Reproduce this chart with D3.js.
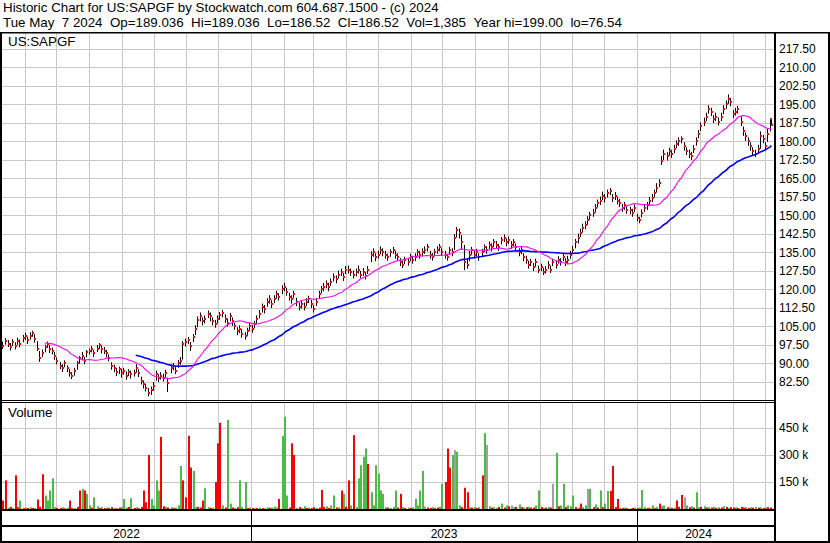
<!DOCTYPE html>
<html><head><meta charset="utf-8">
<script src="https://cdn.jsdelivr.net/npm/d3@7"></script>
<style>
body{margin:0;background:#fff;}
svg{display:block;}
text{font-family:Arial,"Liberation Sans",sans-serif;font-size:12px;fill:#000;}
text.big{font-size:13.33px;}
</style></head>
<body><svg id="chart" width="830" height="543"></svg>
<script>
// ---------------- DATA ----------------
const titleLine1 = "Historic Chart for US:SAPGF by Stockwatch.com 604.687.1500 - (c) 2024";
const titleLine2 = "Tue May  7 2024  Op=189.036  Hi=189.036  Lo=186.52  Cl=186.52  Vol=1,385  Year hi=199.00  lo=76.54";
const symbolLabel = "US:SAPGF";
const volumeLabel = "Volume";
const priceTicks = [82.5,90,97.5,105,112.5,120,127.5,135,142.5,150,157.5,165,172.5,180,187.5,195,202.5,210,217.5];
const volumeTicks = [150,300,450];              // thousands
const volumeTickLabels = ["150 k","300 k","450 k"];
const yearLabels = ["2022","2023","2024"];
const firstWeek = "2022-05-09";                 // bars: Mon/Wed/Fri of each week, last week Mon/Tue

// closes, one row per week
const closes = [
98.5,97.2,99.0, 98.0,96.5,98.8, 97.0,99.2,98.0, 100.2,101.0,99.3, 101.2,102.4,100.0,
96.0,92.0,94.0, 96.8,98.0,96.0, 95.0,93.0,91.0, 89.0,88.0,90.0, 88.0,86.0,85.0,
87.0,90.0,92.0, 93.0,91.0,94.5, 95.0,96.0,94.0, 96.0,97.5,96.0, 95.0,94.0,92.0,
89.0,88.0,86.5, 87.5,86.0,87.0, 85.0,86.5,85.5, 86.0,88.0,86.0, 83.0,81.5,80.0,
78.0,79.0,81.0, 85.5,84.0,85.0, 84.0,86.0,82.0, 88.0,89.0,87.0, 90.0,91.0,98.0,
98.5,99.5,97.0, 100.5,104.0,107.5, 109.0,107.0,108.0, 110.0,109.0,107.0, 106.0,108.0,109.5,
110.5,108.0,106.5, 109.0,107.0,105.0, 103.0,104.0,102.0, 101.0,103.0,105.0, 104.0,106.0,108.0,
110.0,113.0,112.0, 115.0,116.0,114.0, 116.0,118.0,117.0, 120.0,121.0,119.0, 117.0,116.0,118.0,
115.0,113.0,114.0, 113.0,115.0,116.0, 114.0,112.0,115.0, 118.0,120.0,121.0, 122.0,121.0,123.0,
125.0,124.0,126.0, 127.0,125.0,128.0, 128.0,127.0,126.0, 127.0,128.0,126.0, 127.0,125.5,128.0,
134.0,135.0,133.0, 134.0,136.0,135.0, 134.0,133.0,135.0, 136.0,134.0,133.0, 131.0,130.0,132.0,
131.0,133.0,132.0, 133.0,135.0,134.0, 135.0,136.0,137.0, 134.0,133.0,135.0, 136.0,137.0,135.0,
134.0,133.0,136.0, 135.0,141.0,144.0, 143.0,139.0,131.0, 130.0,134.0,136.0, 134.0,135.0,133.0,
135.0,137.0,136.0, 138.0,137.0,139.0, 138.0,137.0,140.0, 141.0,139.0,140.0, 138.0,139.0,137.0,
135.0,136.0,133.0, 132.0,130.0,131.0, 129.0,131.0,128.0, 129.0,127.0,128.0, 130.0,128.0,131.0,
130.0,132.0,131.0, 133.0,131.0,132.0, 134.0,136.0,139.0, 141.0,143.0,145.0, 146.0,148.0,150.0,
151.0,153.0,155.0, 156.0,158.0,157.0, 159.0,160.0,157.0, 158.0,156.0,155.0, 153.0,154.0,152.0,
152.0,151.0,153.0, 149.0,148.0,151.0, 153.0,154.0,156.0, 157.0,159.0,161.0, 163.0,172.0,175.0,
174.0,176.0,175.0, 177.0,179.0,180.0, 181.0,178.0,176.0, 175.0,174.0,177.0, 180.0,183.0,186.0,
188.0,190.0,193.0, 192.0,189.0,190.0, 188.0,190.0,193.0, 195.0,197.0,196.0, 191.0,192.0,193.0,
188.0,184.0,182.0, 180.0,178.0,176.0, 175.0,177.0,182.0, 181.0,178.0,183.0, 189.0,186.52
];
const highs = [
100.0,98.8,100.2, 99.4,98.2,99.8, 98.5,100.4,99.6, 101.5,102.4,100.8, 102.6,103.2,101.8,
99.0,95.0,95.6, 97.6,98.8,97.4, 96.4,94.6,92.4, 90.5,89.6,91.2, 89.2,87.6,86.4,
88.2,91.0,93.0, 94.6,92.6,95.4, 96.0,97.0,95.4, 97.4,98.2,97.2, 96.6,95.4,93.6,
90.4,89.4,88.0, 88.6,87.8,88.2, 86.6,87.6,87.0, 87.4,89.6,87.6, 84.6,83.0,81.6,
80.0,80.6,82.4, 87.0,85.6,86.4, 85.8,87.4,84.2, 89.4,90.2,88.6, 91.4,92.6,99.0,
100.0,100.6,98.6, 101.8,105.4,109.0, 110.6,108.6,109.4, 111.4,110.6,108.6, 107.6,109.4,110.8,
111.6,109.8,108.2, 110.4,108.6,106.4, 104.6,105.4,103.8, 102.6,104.4,106.4, 105.6,107.2,109.4,
111.6,114.2,113.6, 116.4,117.6,115.6, 117.6,119.4,118.4, 121.6,122.6,120.6, 118.6,117.6,119.4,
116.6,114.6,115.4, 114.6,116.4,117.4, 115.6,113.6,116.4, 119.4,121.4,122.6, 123.6,122.6,124.4,
126.4,125.6,127.6, 128.4,126.6,129.4, 129.6,128.4,127.6, 128.4,129.6,127.4, 128.6,127.0,129.4,
135.4,136.6,134.6, 135.6,137.4,136.6, 135.6,134.4,136.2, 137.2,135.6,134.6, 132.6,131.6,133.2,
132.6,134.4,133.6, 134.6,136.2,135.6, 136.6,137.4,138.4, 135.6,134.6,136.4, 137.4,138.4,136.6,
135.6,134.4,137.2, 136.6,142.4,145.2, 144.6,142.0,138.0, 132.6,135.6,137.2, 135.6,136.4,134.6,
136.4,138.2,137.4, 139.4,138.6,140.4, 139.6,138.4,141.2, 142.2,140.6,141.4, 139.6,140.4,138.6,
136.6,137.4,134.6, 133.6,131.6,132.4, 130.6,132.4,129.6, 130.4,128.6,129.4, 131.4,129.6,132.4,
131.6,133.4,132.6, 134.6,132.6,133.6, 135.6,137.6,140.4, 142.6,144.6,146.6, 147.6,149.6,151.4,
152.6,154.6,156.4, 157.6,159.6,158.6, 160.4,161.0,158.6, 159.4,157.6,156.6, 154.6,155.4,153.6,
153.4,152.6,154.4, 150.6,149.4,152.4, 154.6,155.4,157.4, 158.6,160.4,163.0, 164.6,174.0,176.6,
175.6,177.4,176.6, 178.6,180.4,181.6, 182.0,179.6,177.6, 176.6,175.6,178.4, 181.6,184.6,187.6,
189.6,191.6,194.6, 193.6,190.6,191.6, 189.6,191.6,194.6, 196.6,199.0,197.6, 192.6,193.6,194.4,
190.0,186.0,183.6, 181.6,179.6,177.6, 176.6,178.6,184.0, 182.6,179.6,185.0, 189.04,189.04
];
const lows = [
97.0,95.8,97.6, 96.6,95.2,97.0, 95.6,97.5,96.5, 98.5,99.4,97.8, 99.6,100.8,98.4,
95.0,90.6,92.5, 94.5,96.2,94.2, 93.6,91.4,89.6, 87.6,86.5,88.4, 86.4,84.6,83.6,
85.0,87.4,89.8, 91.2,89.6,92.4, 93.6,94.4,92.6, 94.6,95.8,94.0, 93.8,92.4,90.8,
87.4,86.4,84.8, 85.6,84.2,85.4, 83.4,84.8,83.8, 84.6,86.2,84.4, 81.4,79.8,78.6,
76.6,77.2,78.8, 83.0,82.4,83.4, 82.6,84.2,78.4, 86.0,87.2,85.6, 88.2,89.4,91.5,
96.8,97.8,95.0, 98.6,101.4,104.6, 107.0,105.4,106.2, 108.4,107.0,105.4, 104.4,106.2,107.6,
108.6,106.4,104.8, 107.0,105.2,103.6, 101.4,102.2,100.4, 99.6,101.2,103.2, 102.4,104.2,106.0,
108.2,110.6,110.2, 113.0,114.2,112.4, 114.4,116.2,115.4, 118.0,119.2,117.4, 115.4,114.2,116.4,
113.2,111.4,112.2, 111.4,113.2,114.4, 112.4,110.6,113.2, 116.0,118.4,119.2, 120.4,119.2,121.4,
123.2,122.4,124.4, 125.4,123.4,126.2, 126.4,125.4,124.4, 125.2,126.4,124.6, 125.4,124.0,126.2,
131.0,133.2,131.4, 132.4,134.2,133.4, 132.4,131.6,133.2, 134.4,132.4,131.4, 129.4,128.6,130.2,
129.6,131.4,130.4, 131.4,133.4,132.4, 133.4,134.4,135.4, 132.4,131.6,133.4, 134.4,135.4,133.6,
132.4,131.6,134.2, 133.4,136.0,141.0, 140.6,136.0,127.8, 128.4,131.4,134.0, 132.4,133.4,131.6,
133.2,135.2,134.4, 136.4,135.4,137.2, 136.4,135.6,138.2, 139.2,137.4,138.4, 136.4,137.4,135.4,
133.4,134.2,131.4, 130.4,128.4,129.4, 127.4,129.2,126.6, 127.4,125.8,126.4, 128.2,126.6,129.4,
128.4,130.4,129.6, 131.4,129.4,130.4, 132.4,134.4,136.6, 138.6,141.2,143.0, 144.4,146.2,148.2,
149.4,151.2,153.2, 154.2,156.2,155.2, 157.2,158.2,155.4, 156.2,154.4,153.4, 151.4,152.2,150.6,
150.4,149.4,151.4, 147.6,146.8,149.2, 151.4,152.2,154.2, 155.4,157.2,159.2, 161.4,170.4,172.4,
172.2,174.2,173.2, 175.2,177.2,178.2, 179.2,176.2,174.4, 173.2,172.4,175.2, 178.2,181.2,184.2,
186.2,188.2,191.2, 190.2,187.4,188.2, 186.4,188.2,191.0, 193.2,195.2,194.2, 189.4,190.4,191.2,
186.2,182.2,180.2, 178.2,176.2,174.4, 173.6,175.2,177.0, 179.2,176.2,179.8, 184.0,186.52
];
// volume in thousands of shares
const volumes = [
10,47,159, 8,12,5, 187,10,47, 5,8,6, 10,6,5, 53,12,193, 75,47,103, 170,10,6, 5,10,4, 8,47,6,
5,12,103, 112,103,84, 20,8,65, 15,6,10, 5,8,6, 10,5,4, 8,10,56, 8,12,60, 6,10,4, 12,103,37,
300,56,20, 159,103,401, 15,12,8, 10,5,8, 20,239,159, 65,407,230, 212,10,12, 8,47,115, 10,6,8, 150,365,479,
20,8,494, 30,8,6, 10,159,12, 150,6,8, 5,4,6, 8,5,4, 10,6,8, 12,8,56, 405,513,75, 8,365,300,
6,10,5, 15,6,8, 5,10,6, 8,106,12, 15,6,20, 75,8,10, 103,84,12, 159,20,410, 10,170,243, 290,336,250,
93,20,243, 196,103,84, 10,8,6, 12,103,8, 84,10,6, 8,5,10, 56,20,103, 212,15,8, 6,10,5, 8,12,140,
150,336,230, 300,327,318, 20,10,118, 93,10,8, 12,6,10, 187,421,355, 15,8,10, 6,12,30, 8,20,15, 20,10,12,
25,10,8, 10,12,8, 8,20,103, 10,6,8, 12,8,140, 312,15,20, 140,10,20, 15,75,10, 8,30,10, 20,112,112,
10,25,8, 103,10,30, 100,100,239, 10,56,8, 6,8,5, 4,6,8, 5,8,106, 10,6,8, 20,5,12, 30,15,20,
10,8,6, 8,47,12, 78,65,20, 10,15,8, 93,10,12, 15,8,10, 8,12,6, 10,8,15, 12,6,10, 8,10,6,
12,8,10, 6,10,8, 12,8,10, 6,8,10, 8,1.4
];
// volume bar direction: g = up, r = down, n = unchanged
const volumeDirection = (
"rrr grg rrg rgr grg rrr ggg ggr rgr grr " +
"grr grg grg grg rgr rgr rgg grg rgr rrr " +
"rgg ggr rgr grg ggr rrr ggr rrg grg rrr " +
"grg grg rgg grg rgr grg grg ggr ggg rrr " +
"grg grg rrg rrr grg grg rgr rgr ggg ggr " +
"ggg ggg grg ggr rgr grg ggg gnr rgr rgg " +
"rrr gng grr rgr grg rgn grg grg rgr ngr " +
"grg rgr rgg rgr grn grg grg ggr grg gng " +
"rgr grg grr rrg rgr grg rgg grg grg rgg " +
"rgr grr rng rgr ggr grg rgr grg rgr rgr " +
"rrg rgr grg rgr rr").replace(/ /g, "").split("");

// ---------------- BUILD ----------------
const svg = d3.select("#chart");
const W = 830, H = 543;
const plotL = 2, plotR = 774;
const priceTop = 33, priceBot = 400, volTop = 402, volBot = 509.5;

const t0 = d3.timeParse("%Y-%m-%d")(firstWeek);
const dates = [];
for (let w = 0; w <= 104; w++) {
  const offs = w === 104 ? [0, 1] : [0, 2, 4];
  offs.forEach(o => dates.push(d3.timeDay.offset(t0, 7 * w + o)));
}
const n = Math.min(dates.length, closes.length, highs.length, lows.length);
const bars = d3.range(n).map(i => ({
  date: dates[i], close: closes[i], high: highs[i], low: lows[i],
  vol: volumes[i] || 0, dir: volumeDirection[i] || "g"
}));

const x = d3.scaleTime()
  .domain([new Date(2023, 0, 1), new Date(2024, 0, 1)])
  .range([251, 637]);
const y = d3.scaleLinear().domain([82.5, 217.5]).range([381.8, 48.8]);
const yv = d3.scaleLinear().domain([0, 450]).range([509, 428]);

const defs = svg.append("defs");
defs.append("clipPath").attr("id", "clipP").append("rect")
  .attr("x", plotL).attr("y", priceTop).attr("width", plotR - plotL).attr("height", priceBot - priceTop);
defs.append("clipPath").attr("id", "clipV").append("rect")
  .attr("x", plotL).attr("y", volTop).attr("width", plotR - plotL).attr("height", volBot - volTop);

svg.append("rect").attr("width", W).attr("height", H).attr("fill", "#fff");

// header text (non-breaking spaces keep the double gaps)
const nb = s => s.replace(/ /g, "\u00A0");
svg.append("text").attr("class", "big").attr("x", 3).attr("y", 12).text(nb(titleLine1));
svg.append("text").attr("class", "big").attr("x", 3).attr("y", 27).text(nb(titleLine2));

// month gridlines
const months = d3.timeMonth.range(new Date(2022, 4, 1), new Date(2024, 6, 1))
  .filter(d => x(d) > plotL + 1 && x(d) < plotR - 1);
const grid = svg.append("g").attr("stroke", "#c8c8c8").attr("stroke-width", 1);
months.forEach(m => {
  const xx = Math.round(x(m)) + 0.5;
  grid.append("line").attr("x1", xx).attr("x2", xx).attr("y1", priceTop).attr("y2", priceBot);
  grid.append("line").attr("x1", xx).attr("x2", xx).attr("y1", volTop).attr("y2", volBot);
});
priceTicks.forEach(p => {
  const yy = Math.round(y(p)) + 0.5;
  grid.append("line").attr("x1", plotL).attr("x2", plotR).attr("y1", yy).attr("y2", yy);
});
volumeTicks.forEach(v => {
  const yy = Math.round(yv(v)) + 0.5;
  grid.append("line").attr("x1", plotL).attr("x2", plotR).attr("y1", yy).attr("y2", yy);
});

// price axis (right)
const pAxis = svg.append("g").attr("transform", `translate(${plotR + 2},0)`)
  .call(d3.axisRight(y).tickValues(priceTicks).tickFormat(d3.format(".2f")).tickSize(0).tickPadding(3));
pAxis.select(".domain").remove();
pAxis.selectAll("text").attr("font-size", 12).attr("fill", "#000").attr("font-family", "Arial, 'Liberation Sans', sans-serif");

const vAxis = svg.append("g").attr("transform", `translate(${plotR + 2},0)`)
  .call(d3.axisRight(yv).tickValues(volumeTicks).tickFormat((d, i) => volumeTickLabels[i]).tickSize(0).tickPadding(3));
vAxis.select(".domain").remove();
vAxis.selectAll("text").attr("font-size", 12).attr("fill", "#000").attr("font-family", "Arial, 'Liberation Sans', sans-serif");

// price bars
const pg = svg.append("g").attr("clip-path", "url(#clipP)");
pg.selectAll("line.bar").data(bars).join("line").attr("class", "bar")
  .attr("x1", d => Math.round(x(d.date)) + 0.5).attr("x2", d => Math.round(x(d.date)) + 0.5)
  .attr("y1", d => y(d.high)).attr("y2", d => y(d.low))
  .attr("stroke", "#000").attr("stroke-width", 1);
pg.selectAll("rect.cl").data(bars).join("rect").attr("class", "cl")
  .attr("x", d => Math.round(x(d.date))).attr("y", d => Math.round(y(d.close)) - 1)
  .attr("width", 2).attr("height", 2).attr("fill", "#ff0000");

// moving averages
function movingAverage(arr, len) {
  return arr.map((d, i) => i < len - 1 ? null : d3.mean(arr.slice(i - len + 1, i + 1), e => e.close));
}
const maShort = movingAverage(bars, 19);
const maLong = movingAverage(bars, 56);
const maLine = d3.line().defined(d => d[1] != null).x(d => x(d[0])).y(d => y(d[1]));
pg.append("path").datum(bars.map((b, i) => [b.date, maLong[i]]))
  .attr("d", maLine).attr("fill", "none").attr("stroke", "#0000ff").attr("stroke-width", 1.6);
pg.append("path").datum(bars.map((b, i) => [b.date, maShort[i]]))
  .attr("d", maLine).attr("fill", "none").attr("stroke", "#ff00ff").attr("stroke-width", 1.1);

// volume bars
const colorOf = { g: "#4cbb47", r: "#ff0000", n: "#a0a0a0" };
const vg = svg.append("g").attr("clip-path", "url(#clipV)");
vg.selectAll("rect").data(bars).join("rect")
  .attr("x", d => Math.round(x(d.date)))
  .attr("y", d => yv(d.vol))
  .attr("width", 2)
  .attr("height", d => Math.max(1, yv(0) - yv(d.vol)))
  .attr("fill", d => colorOf[d.dir]);

// labels
svg.append("text").attr("class", "big").attr("x", 8).attr("y", 46).text(symbolLabel);
svg.append("text").attr("class", "big").attr("x", 8).attr("y", 417).text(volumeLabel);

// frames
const fr = svg.append("g").attr("fill", "#000");
fr.append("rect").attr("x", 0).attr("y", 32).attr("width", W).attr("height", 1.5);
fr.append("rect").attr("x", 0).attr("y", 32).attr("width", 2).attr("height", H - 32);
fr.append("rect").attr("x", 828).attr("y", 32).attr("width", 2).attr("height", H - 32);
fr.append("rect").attr("x", plotR).attr("y", 32).attr("width", 2).attr("height", H - 32);
fr.append("rect").attr("x", 0).attr("y", 400).attr("width", plotR).attr("height", 1);
fr.append("rect").attr("x", 0).attr("y", 402).attr("width", plotR).attr("height", 1);
fr.append("rect").attr("x", 0).attr("y", 509).attr("width", plotR).attr("height", 2);
fr.append("rect").attr("x", 0).attr("y", 525).attr("width", plotR).attr("height", 2);
fr.append("rect").attr("x", 0).attr("y", 541).attr("width", W).attr("height", 2);

// year separators & labels
const yearStarts = [new Date(2023, 0, 1), new Date(2024, 0, 1)];
yearStarts.forEach(d => {
  fr.append("rect").attr("x", Math.round(x(d))).attr("y", 510).attr("width", 1).attr("height", 31);
});
const yearBounds = [plotL, x(yearStarts[0]), x(yearStarts[1]), 760];
yearLabels.forEach((lab, i) => {
  svg.append("text").attr("x", (yearBounds[i] + yearBounds[i + 1]) / 2).attr("y", 538)
    .attr("text-anchor", "middle").text(lab);
});
</script>
</body></html>
